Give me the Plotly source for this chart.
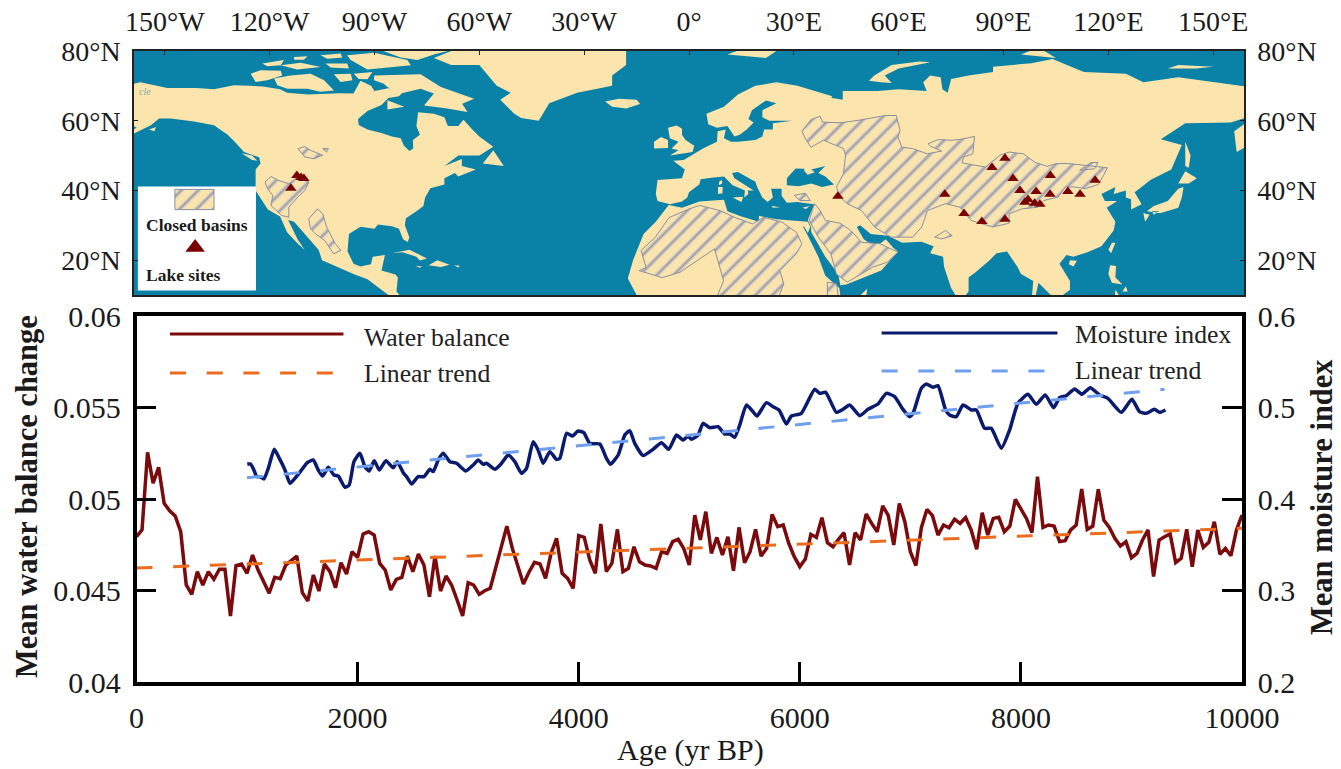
import plotly.graph_objects as go

W, H = 1341, 769
SERIF = "Liberation Serif"

# ---------- lower panel data ----------
ages = list(range(0, 10001, 50))
water_balance = [
 .04794,.04831,.05255,.05086,.05173,.04976,.04936,.04907,.04821,.04530,.04479,.04603,.04530,.04603,.04561,.04616,.04616,.04361,.04636,.04645,
 .04594,.04694,.04612,.04548,.04485,.04572,.04565,.04639,.04663,.04688,.04488,.04443,.04585,.04497,.04645,.04603,.04515,.04652,.04590,.04712,
 .04681,.04809,.04821,.04803,.04648,.04612,.04503,.04561,.04572,.04688,.04603,.04699,.04639,.04466,.04688,.04497,.04579,.04530,.04448,.04361,
 .04543,.04530,.04479,.04499,.04512,.04630,.04739,.04852,.04730,.04630,.04536,.04600,.04654,.04645,.04566,.04703,.04785,.04594,.04566,.04512,
 .04800,.04790,.04667,.04594,.04863,.04603,.04648,.04834,.04603,.04621,.04739,.04657,.04639,.04634,.04621,.04712,.04703,.04767,.04780,.04730,
 .04639,.04912,.04776,.04931,.04703,.04790,.04694,.04794,.04608,.04845,.04652,.04712,.04834,.04688,.04730,.04916,.04849,.04858,.04758,.04685,
 .04630,.04672,.04807,.04790,.04898,.04761,.04739,.04780,.04816,.04639,.04816,.04776,.04918,.04867,.04821,.04962,.04910,.04749,.04976,.04876,
 .04712,.04636,.04845,.04943,.04909,.04803,.04858,.04843,.04889,.04867,.04898,.04831,.04725,.04925,.04803,.04894,.04900,.04821,.04852,.04998,
 .04949,.04894,.04816,.05122,.04845,.04858,.04852,.04767,.04772,.04831,.04858,.05055,.04834,.04852,.05053,.04885,.04845,.04785,.04743,.04767,
 .04679,.04703,.04776,.04831,.04576,.04776,.04794,.04809,.04652,.04676,.04834,.04630,.04831,.04736,.04763,.04876,.04698,.04730,.04690,.04831,.04912]
water_trend_age = [0, 10000]
water_trend = [0.04623, 0.04840]

moisture_age = [1002,1032,1062,1087,1117,1153,1192,1246,1297,1343,1388,1433,1493,1545,1599,1644,1683,1735,1786,1825,1885,1924,1967,2021,2066,2105,2150,2196,2256,2322,2358,2413,2443,2488,2548,2600,2654,2684,2729,2774,2835,2895,2979,3046,3091,3136,3166,3242,3302,3362,3422,3483,3528,3588,3633,3679,3739,3799,3829,3890,3944,3995,4046,4100,4191,4251,4287,4357,4417,4462,4507,4583,4673,4748,4815,4884,4944,4989,5020,5080,5125,5185,5261,5321,5366,5411,5457,5517,5577,5613,5698,5758,5812,5879,5924,6014,6135,6180,6234,6331,6391,6451,6542,6617,6707,6783,6858,6933,6994,7024,7099,7144,7205,7250,7319,7355,7416,7476,7551,7597,7672,7732,7823,7898,7973,8064,8139,8220,8296,8350,8410,8486,8552,8627,8712,8787,8908,9004,9073,9133,9209,9254,9308]
moisture = [.4382,.4382,.4317,.4244,.4244,.4219,.4335,.4543,.4433,.4317,.4171,.4226,.4317,.4397,.4426,.4317,.4251,.4346,.4262,.4251,.4128,.4153,.4408,.4499,.4353,.4306,.4419,.4317,.4419,.4342,.4408,.4288,.4244,.4164,.4244,.4244,.4324,.4299,.4426,.4499,.4408,.4390,.4306,.4372,.4426,.4379,.4390,.4324,.4390,.4481,.4408,.4280,.4335,.4627,.4536,.4390,.4517,.4433,.4444,.4718,.4689,.4743,.4725,.4608,.4601,.4444,.4379,.4481,.4699,.4747,.4608,.4474,.4543,.4616,.4543,.4699,.4645,.4688,.4652,.4699,.4827,.4780,.4790,.4710,.4710,.4674,.4809,.5027,.4954,.4907,.5053,.5009,.4973,.4820,.4907,.4936,.5199,.5155,.5166,.4947,.4980,.5027,.4911,.4980,.5038,.5155,.5118,.4980,.4900,.4936,.5209,.5257,.5220,.5239,.4973,.4918,.4900,.5027,.4973,.4973,.4772,.4772,.4554,.4754,.5046,.5144,.5035,.5137,.4998,.5107,.5129,.5202,.5144,.5217,.5137,.5100,.4947,.5089,.4954,.4936,.4980,.4947,.4973]
moisture_trend_age = [1000, 9300]
moisture_trend = [0.4233, 0.5199]

age_ticks = [0, 2000, 4000, 6000, 8000, 10000]
age_labels = ["0", "2000", "4000", "6000", "8000", "10000"]
left_ticks = [0.04, 0.045, 0.05, 0.055, 0.06]
left_labels = ["0.04", "0.045", "0.05", "0.055", "0.06"]
right_ticks = [0.2, 0.3, 0.4, 0.5, 0.6]
right_labels = ["0.2", "0.3", "0.4", "0.5", "0.6"]

# ---------- map data (lon, lat) ----------
north_america = [(-170,65.5),(-166,66.5),(-162,67),(-166,68.5),(-162,70),(-157,71),(-149.3,69.4),(-141,69.4),(-135.9,69),(-130.2,70.2),(-125.5,70),(-122,69.8),(-117,69),(-115,68),(-109,67.5),(-100,67.9),(-96,67.8),(-94,71.5),(-91,70),(-90,68.5),(-85,69.5),(-81.5,68.5),(-83,67),(-86,66.5),(-88,64.5),(-92,62.8),(-94.7,60.5),(-94.5,58.8),(-92,57.5),(-88,56.5),(-85,55.5),(-82.5,55),(-81.6,52.9),(-80,51.3),(-78.9,52),(-79,54.5),(-77,56),(-78,58.5),(-77.5,62.4),(-73,62),(-70,61),(-69,58.5),(-66,58.5),(-64.5,60.3),(-62,57.5),(-60,55.5),(-56,52.5),(-60,50),(-66,50),(-70,47),(-65,49),(-65,47),(-61,46),(-66,44),(-67,45),(-70,43.5),(-70,41.7),(-74,40.6),(-75.5,38),(-76,35.5),(-78,34),(-81,32),(-81.3,30),(-80,26.5),(-80.5,25.2),(-81.8,26),(-83,29),(-85,29.7),(-89,30.2),(-90,29),(-94,29.6),(-97.3,27.5),(-97.7,22.5),(-96,19),(-94,18.2),(-91,18.8),(-90.5,21),(-87,21.5),(-88,17),(-84,15.9),(-83.3,15),(-83.7,11),(-82,9),(-80,5),(-86,10),(-92,14.5),(-96,16),(-105,20),(-106,23),(-110,27.5),(-113,31),(-114.7,31.5),(-112,26),(-110,23),(-112,24.8),(-115,28),(-117,32.5),(-120.5,34.5),(-124,40),(-124,46),(-122.6,47.7),(-123,49.5),(-127.3,51),(-130,54),(-132,56),(-135.9,58.7),(-141.6,59.8),(-148.3,60.6),(-151.6,60.6),(-154,58.7),(-158.8,56.3),(-164,54.5),(-158,58),(-162,60),(-165,62),(-161,64)]
greenland = [(-73,78),(-68,76),(-60,76),(-55,70),(-51,68),(-54,66),(-50,62),(-48,60.8),(-43,60),(-40,65),(-32,68),(-22,70),(-22,73),(-18,76),(-18,80),(-12,81),(-30,84),(-60,82.5),(-68,80)]
eurasia = [(-9,37),(-9.5,39),(-9,43),(-2,43.5),(-1.2,46),(-4.5,48.5),(-1.5,48.7),(1.5,50.5),(4,52),(8,54),(8.2,57),(10.5,57.5),(10,55),(12,54),(14,54),(19,54.5),(21,55.5),(21.5,57.5),(24,57.5),(24,59.3),(29.5,60),(23,60),(21,61),(21,63),(25,65),(22,65.8),(18,63),(17,60.5),(18.5,59.5),(16.5,57.5),(14.5,56),(13,55.5),(11,58.5),(8,58),(5.5,59),(5,62),(10,64),(14,67.5),(19,70),(25,71),(31,70),(41,67),(40,65.5),(35,64.2),(33,66.5),(41,66.5),(44,66),(44,68.5),(54,68.5),(60,69),(68,68.5),(67,71),(69,73),(72,72.5),(72.5,69),(74,68),(75,72),(80,73),(87,74),(87,75.5),(98,76.5),(104,77.7),(113,74),(125,73.5),(130,71),(140,72.5),(150,71),(160,69.7),(170,70),(180,69),(180,65),(178,62.5),(170,60),(163,58),(160,53),(156.7,51),(156,57),(163,62),(155,59.5),(142,59.3),(135,54.7),(141,53),(138,46),(132,43),(129.5,41),(127.5,39.5),(129.5,36),(126.5,34.5),(126.5,37.5),(125,38),(125,40),(121.5,39),(122,41),(118,39),(119,37),(122.5,37),(119.5,35),(122,31),(121.5,28.5),(118,24),(114,22.3),(110,21),(108,21.5),(106,19),(109,14),(109,11.5),(105,8.5),(100,13.5),(99,9),(98,8),(98.5,14),(95,16),(94,18),(91,22.5),(88,22),(86,20),(82,16.5),(80,15),(80,11),(77.5,8),(75,12),(73,18),(72.7,21),(69,22),(70,24),(66.5,25.3),(61,25),(57,27),(52,27.5),(49,30),(48,29.5),(50,26),(51.5,25),(54,24.2),(56.3,26),(58.5,23.5),(59.8,22.5),(55,17),(45,13),(43.3,12.8),(42.7,16),(39,21),(35,28),(34.9,29.5),(34,31.5),(35.8,36),(31,36.7),(28,36.5),(26.5,38.5),(26.5,40.5),(23.5,40.5),(24,38),(22.5,36.7),(21,38),(19.5,41),(19,42.5),(14,45.3),(12.3,45),(13,43.5),(16,41.7),(18.5,40),(16.8,40),(17,39),(15.8,38),(16,40),(12.5,41.5),(10,44),(7,43.7),(3.3,43.2),(3,41.8),(0,39.5),(-0.5,38),(-2,36.8),(-5.5,36)]
africa = [(-5.8,35.8),(-2,35),(3,36.8),(10,37.3),(11,34),(15,32.5),(20,31),(20,32.7),(25,31.7),(32,31.2),(34,31),(34.7,29.5),(34,27.8),(33,29.5),(32.5,29.8),(34,27),(37,21),(39,15.5),(43,12),(44,5),(51,11.8),(50,5),(10,2),(-8,4),(-15,10),(-17.5,14.7),(-16,20),(-13,27.5),(-9.5,31)]
islands = [
 [(-59,47.7),(-56,51.5),(-53,47)],
 [(-85,22),(-80,23),(-75,20.5),(-77,19.9),(-78,21),(-82,22.3)],
 [(-74.5,18.5),(-72,20),(-68.5,18.7),(-71,18)],
 [(-78.3,18.4),(-76.3,18.2),(-77,17.8)],
 [(-67.2,18.5),(-65.6,18.4),(-66,17.9)],
 [(-90.1,73),(-76.8,73.3),(-71,69.7),(-61.5,66.3),(-64.9,64.9),(-63.4,62.5),(-69.2,63.5),(-75.8,64.4),(-73,67.8),(-76.8,69.2),(-82.5,67.8),(-86.3,69.7),(-87.3,70.6),(-90.1,71.6)],
 [(-118.7,72.1),(-114,73),(-108.3,73.5),(-104.4,71.6),(-101.6,68.7),(-105.4,68.3),(-109.2,69.2),(-114.9,69.2),(-117.8,70.2)],
 [(-125.4,73.5),(-122.6,74.5),(-116.8,74.3),(-116.4,73),(-120.7,71.6),(-124,71.1)],
 [(-122.1,76.4),(-115.9,77.4),(-116.8,75.9),(-120.7,75.6)],
 [(-116.8,75.9),(-111.1,76.6),(-105.4,75.4),(-112.1,74.7)],
 [(-113,78.3),(-109.2,78.5),(-110.2,77.5),(-113,77.5)],
 [(-105.4,78.8),(-99.7,79.3),(-99.2,78.1),(-103.5,77.8)],
 [(-104,76.4),(-97.8,76.4),(-97.3,75),(-102.5,75.3)],
 [(-101.6,73.3),(-96.8,73.5),(-96.3,71.6),(-99.7,71.1)],
 [(-95.9,73.5),(-90.6,74),(-92,71.9),(-94.5,72)],
 [(-97.8,78.8),(-90.1,79.5),(-80.6,77.4),(-79.6,75.9),(-92,74.7),(-96.8,77.4)],
 [(-90.1,81),(-65,81),(-73,79),(-77.7,77.4),(-82.5,78.1)],
 [(-86.3,65.9),(-81.5,64),(-86.3,63.2)],
 [(-154.5,57.5),(-152.5,58.2),(-153,57)],
 [(-128,50.7),(-125,50),(-123.5,48.5),(-125,48.7)],
 [(-24,65.5),(-22,64),(-18,63.5),(-14,64.8),(-15,66),(-20,66.3)],
 [(-5.5,50),(1,51),(1.5,52.8),(-1,54.5),(-2,56),(-2,57.7),(-3.5,58.6),(-6,58),(-5.5,55),(-3,54),(-5,52),(-3,51.5)],
 [(-10,52),(-6,52.2),(-6,54.5),(-8,55.3),(-10,54)],
 [(131,34),(135,33.5),(140,35),(141,38),(141.5,41),(140,40.5),(137,37),(133,35.5)],
 [(140,42),(142,45.5),(145.3,43.5),(143,42)],
 [(130,33.5),(131.8,33),(130.5,31)],
 [(132.5,34),(134.5,34),(133,33)],
 [(142,54),(143.5,50),(143,46.5),(142,47),(142,50)],
 [(121,25),(122,25),(120.8,22),(120,23)],
 [(109,20),(111,19.8),(110,18.2),(108.7,18.8)],
 [(120.5,18.5),(122.2,18.3),(122,15),(124,13),(121,13.5),(120,16)],
 [(125,12.5),(124,11),(125.5,11)],
 [(122,11.5),(123,10),(121.9,10)],
 [(51.5,71.5),(55,71),(58,70.8),(56,73),(60,75),(69,76.8),(66,77),(58,76),(53,73)],
 [(11,79),(22,78),(25,80),(15,80.5)],
 [(137,75),(145,75),(150,75.5),(140,76)],
 [(95,79),(105,78),(100,81)],
 [(8.3,39),(9.6,39.2),(9.6,41),(8.3,41)],
 [(8.6,41.5),(9.5,42),(9.4,43),(8.6,42.5)],
 [(12.5,38),(15.5,38.2),(15,36.7)],
 [(23.6,35.5),(26.2,35.2),(24,35)],
 [(32.4,35),(34.5,35.5),(33.5,34.7)],
]
black_sea = [(28,41.5),(31.5,41.2),(35,42),(38,41),(41.5,41.7),(39,44),(37,45),(39,47),(35,46),(36,45.2),(34,44.5),(33,45.5),(33,46.2),(30.5,46.3),(28,43.5)]

basin_central_asia = [(32.3,57.0),(34.9,60.3),(37.5,61.3),(38.2,59.6),(43.2,59.4),(48.4,60.1),(56.2,61.5),(59.3,61.5),(60.4,57.2),(59.8,55.3),(60.9,52.4),(64.0,52.0),(68.2,50.5),(72.3,51.3),(69.2,52.6),(68.4,53.4),(71.3,54.6),(75.0,54.4),(77.5,54.6),(81.7,55.5),(81.2,50.5),(78.6,49.6),(78.1,47.9),(84.8,46.7),(89.0,50.1),(91.6,51.0),(95.7,50.5),(98.9,48.1),(102.5,46.9),(105.1,47.7),(108.7,47.7),(112.9,47.2),(119.7,46.5),(118.6,44.3),(117.1,41.7),(113.4,40.5),(110.3,41.0),(107.7,41.0),(105.6,38.1),(101.5,37.1),(99.9,35.2),(95.2,34.7),(91.6,33.3),(91.6,30.6),(86.9,29.5),(80.7,31.4),(77.5,35.2),(73.4,36.2),(68.2,34.2),(66.6,29.5),(64.0,26.6),(57.8,26.6),(53.1,29.5),(49.4,34.2),(45.3,36.2),(43.2,38.1),(42.2,41.0),(44.2,44.8),(44.8,50.1),(44.2,52.0),(38.5,54.4),(34.9,52.4),(33.3,54.8)]
basin_arabia = [(34.4,31.4),(35.9,36.2),(37.5,34.3),(39.0,31.4),(43.2,30.6),(46.3,28.5),(49.4,25.1),(54.6,24.7),(59.8,22.3),(56.7,19.4),(52.6,18.0),(45.3,13.7),(42.2,16.0),(40.6,21.8),(37.0,26.6)]
basin_sahara = [(.3,34.8),(3.1,35.7),(8.9,34.2),(13,32.3),(18.2,30.4),(21.4,32.3),(26.6,30.9),(30.7,28),(32.3,24.7),(30.7,21.8),(26,17),(27.1,13.2),(25.5,9),(7.8,9),(9.9,14.1),(7.3,23.2),(3.7,20.8),(-2.6,16.5),(-7.7,15),(-14.3,17),(-12.3,17.9),(-13.7,22.8),(-9.7,26.5),(-5.7,32.2)]
basin_afar = [(39.6,13.7),(42.2,13.2),(42.7,9.8),(39.6,9.8)]
basin_hulun = [(111.8,45.8),(115,48),(117,48),(116,46.2)]
basin_helmand_small = [(70.3,26.6),(73.4,28.5),(75.3,27),(72.3,26.1)]
basin_turkey = [(30.2,38.6),(33.3,39.2),(34.7,37.1),(31.7,37.1)]
basin_great = [(-121.3,42.4),(-119.6,44.0),(-117.5,42.9),(-114.5,41.9),(-112.1,43.8),(-108.8,42.4),(-109.9,40.0),(-111.9,38.1),(-114.5,35.2),(-114.5,32.3),(-116.5,32.8),(-119.6,35.7),(-119.1,38.6),(-120.6,40.5)]
basin_prairie1 = [(-111.9,52),(-109.9,52.6),(-108.3,51.5),(-104.8,50.1),(-107.3,49.1),(-109.9,49.6),(-111.1,51)]
basin_prairie2 = [(-104.8,52),(-103.2,52),(-103.7,51)]
basin_mexico = [(-108.8,31.9),(-106.3,34.7),(-104.8,33.3),(-103.7,29.5),(-101.2,24.7),(-99.6,22.8),(-101.7,21.8),(-104.2,25.6),(-106.8,27.5),(-108.3,29)]

site_lon = [42.6,73.2,78.7,83.8,90.4,86.7,90.4,92.7,94.7,103.4,116.2,108.4,111.9,103.3,99.3,97,96.1,98.9,100.4,-112.2,-110.2,-111,-113.9]
site_lat = [38.3,38.9,33.4,31.1,31.7,46.6,49.2,43.4,40,44.3,42.9,39.7,38.9,38.9,39.7,37.4,36.6,36.3,36,44.3,43.4,43.7,40.6]

lon_ticks = [-150,-120,-90,-60,-30,0,30,60,90,120,150]
lon_labels = ["150°W","120°W","90°W","60°W","30°W","0°","30°E","60°E","90°E","120°E","150°E"]
lat_ticks = [20,40,60,80]
lat_labels = ["20°N","40°N","60°N","80°N"]

legend_box = [(-157.7,41.1),(-123.9,41.1),(-123.9,11.3),(-157.7,11.3)]
legend_swatch = [(-147.1,40.3),(-135.9,40.3),(-135.9,34.5),(-147.1,34.5)]

SEA, LAND = "#0a82a8", "#fce5ad"
HATCH_BG, HATCH_LINE, BORDER = "#fce5ad", "#6b7084", "#8b8f9e"
RED, ORANGE, NAVY, SKY = "#7a0a0c", "#ea6c1c", "#0a1a6e", "#6f9ff0"


def poly(*rings):
    xs, ys = [], []
    for ring in rings:
        xs += [p[0] for p in ring] + [ring[0][0], None]
        ys += [p[1] for p in ring] + [ring[0][1], None]
    return xs, ys


fig = go.Figure()


def map_fill(rings, color, name):
    x, y = poly(*rings)
    fig.add_trace(go.Scatter(x=x, y=y, xaxis="x2", yaxis="y2", mode="lines", fill="toself",
                             fillcolor=color, line=dict(width=0), hoverinfo="skip", name=name))


def hatched(rings, name):
    x, y = poly(*rings)
    fig.add_trace(go.Scatter(x=x, y=y, xaxis="x2", yaxis="y2", mode="lines", fill="toself", hoverinfo="skip",
                             line=dict(width=0), name=name + " band", fillcolor=HATCH_BG,
                             fillpattern=dict(shape="/", size=12, solidity=0.45, fgcolor="#c9cbdc", bgcolor=HATCH_BG)))
    fig.add_trace(go.Scatter(x=x, y=y, xaxis="x2", yaxis="y2", mode="lines", fill="toself", hoverinfo="skip",
                             line=dict(width=1, color=BORDER), name=name,
                             fillpattern=dict(shape="/", size=12, solidity=0.2, fgcolor=HATCH_LINE, bgcolor="rgba(0,0,0,0)")))


map_fill([north_america, greenland, eurasia, africa] + islands, LAND, "Land")
map_fill([black_sea], SEA, "Black Sea")
hatched([basin_central_asia, basin_arabia, basin_sahara, basin_afar, basin_hulun, basin_helmand_small, basin_turkey,
         basin_great, basin_prairie1, basin_prairie2, basin_mexico], "Closed basins")
fig.add_trace(go.Scatter(x=site_lon, y=site_lat, xaxis="x2", yaxis="y2", mode="markers", name="Lake sites",
                         marker=dict(symbol="triangle-up", size=10, color="#7a0000", line=dict(width=0)), hoverinfo="skip"))
map_fill([legend_box], "#ffffff", "Legend box")
hatched([legend_swatch], "Legend swatch")
fig.add_trace(go.Scatter(x=[-141.3], y=[23.6], xaxis="x2", yaxis="y2", mode="markers", name="Legend marker",
                         marker=dict(symbol="triangle-up", size=17, color="#7a0000", line=dict(width=0)), hoverinfo="skip"))
# carries the right-hand latitude axis
fig.add_trace(go.Scatter(x=[0], y=[40], xaxis="x2", yaxis="y4", mode="markers", marker=dict(opacity=0), hoverinfo="skip", name="lat"))

# lower panel
LW = 3.5
fig.add_trace(go.Scatter(x=ages, y=water_balance, xaxis="x", yaxis="y", mode="lines", name="Water balance",
                         line=dict(color=RED, width=LW), hoverinfo="skip"))
fig.add_trace(go.Scatter(x=water_trend_age, y=water_trend, xaxis="x", yaxis="y", mode="lines", name="Linear trend",
                         line=dict(color=ORANGE, width=3, dash="16px,20.7px"), hoverinfo="skip"))
fig.add_trace(go.Scatter(x=moisture_age, y=moisture, xaxis="x", yaxis="y3", mode="lines", name="Moisture index",
                         line=dict(color=NAVY, width=LW, shape="spline", smoothing=0.5), hoverinfo="skip"))
fig.add_trace(go.Scatter(x=moisture_trend_age, y=moisture_trend, xaxis="x", yaxis="y3", mode="lines", name="Linear trend",
                         line=dict(color=SKY, width=3, dash="16px,20.7px"), hoverinfo="skip"))
# in-plot key
fig.add_trace(go.Scatter(x=[303, 1872], y=[0.05902, 0.05902], mode="lines", line=dict(color=RED, width=3), hoverinfo="skip", name="key water"))
fig.add_trace(go.Scatter(x=[303, 1840], y=[0.05688, 0.05688], mode="lines", line=dict(color=ORANGE, width=3, dash="16px,20.7px"), hoverinfo="skip", name="key trend"))
fig.add_trace(go.Scatter(x=[6740, 8331], y=[0.05907, 0.05907], mode="lines", line=dict(color=NAVY, width=3), hoverinfo="skip", name="key moisture"))
fig.add_trace(go.Scatter(x=[6740, 8222], y=[0.05699, 0.05699], mode="lines", line=dict(color=SKY, width=3, dash="16px,20.7px"), hoverinfo="skip", name="key trend 2"))

ann = [
    dict(text="<b>Closed basins</b>", x=-140.8, y=30.2, xref="x2", yref="y2", showarrow=False, font=dict(size=17.5)),
    dict(text="<b>Lake sites</b>", x=-144.5, y=15.6, xref="x2", yref="y2", showarrow=False, font=dict(size=17.5)),
    dict(text="<i>cle</i>", x=-155.6, y=68.4, xref="x2", yref="y2", showarrow=False, font=dict(size=10, color="#7fa8a8")),
    dict(text="Water balance", x=2040, y=0.0588, xref="x", yref="y", xanchor="left", showarrow=False, font=dict(size=25.7, color="#222")),
    dict(text="Linear trend", x=2040, y=0.05685, xref="x", yref="y", xanchor="left", showarrow=False, font=dict(size=25.7, color="#222")),
    dict(text="Moisture index", x=8470, y=0.0590, xref="x", yref="y", xanchor="left", showarrow=False, font=dict(size=25.7, color="#222")),
    dict(text="Linear trend", x=8470, y=0.0570, xref="x", yref="y", xanchor="left", showarrow=False, font=dict(size=25.7, color="#222")),
    dict(text="<b>Mean water balance change</b>", x=27/W, y=1-497/H, xref="paper", yref="paper", xanchor="center", yanchor="middle", textangle=-90, showarrow=False, font=dict(size=30.5)),
    dict(text="<b>Mean moisture index</b>", x=1322/W, y=1-497/H, xref="paper", yref="paper", xanchor="center", yanchor="middle", textangle=-90, showarrow=False, font=dict(size=30.5)),
    dict(text="Age (yr BP)", x=690/W, y=1-750/H, xref="paper", yref="paper", xanchor="center", yanchor="middle", showarrow=False, font=dict(size=30)),
]

bot = [1-682/H, 1-316/H]
fig.update_layout(
    width=W, height=H, autosize=False, margin=dict(l=0, r=0, t=0, b=0),
    paper_bgcolor="white", plot_bgcolor="white", showlegend=False,
    font=dict(family=SERIF, color="#1a1a1a"),
    annotations=ann,
    shapes=[dict(type="rect", xref="x2 domain", yref="y2 domain", x0=0, x1=1, y0=0, y1=1, fillcolor=SEA, line=dict(width=0), layer="below")],
    xaxis=dict(domain=[136.5/W, 1242/W], range=[0, 10000], tickvals=age_ticks, ticktext=age_labels, ticks="inside", ticklen=20, tickwidth=2.5,
               tickcolor="black", showline=True, linewidth=3.5, linecolor="black", mirror=True, showgrid=False, zeroline=False,
               tickfont=dict(size=30), ticklabelstandoff=6, anchor="y", automargin=False),
    yaxis=dict(domain=bot, range=[0.04, 0.06], tickvals=left_ticks, ticktext=left_labels, ticks="inside", ticklen=20,
               tickwidth=2.5, tickcolor="black", showline=True, linewidth=3.5, linecolor="black", showgrid=False, zeroline=False,
               tickfont=dict(size=30), ticklabelstandoff=6, anchor="x", automargin=False),
    yaxis3=dict(domain=bot, range=[0.2, 0.6], overlaying="y", side="right", tickvals=right_ticks, ticktext=right_labels,
                ticks="inside", ticklen=20, tickwidth=2.5, tickcolor="black", showline=True, linewidth=3.5, linecolor="black",
                showgrid=False, zeroline=False, tickfont=dict(size=30), ticklabelstandoff=6, anchor="x", automargin=False),
    xaxis2=dict(domain=[134/W, 1244/W], range=[-158.8, 158.8], side="top", tickvals=lon_ticks, ticktext=lon_labels, ticks="inside",
                ticklen=4, tickwidth=1, tickcolor="#222", showline=True, linewidth=1.5, linecolor="#222", mirror=True,
                showgrid=False, zeroline=False, anchor="y2", automargin=False, tickfont=dict(size=28), ticklabelstandoff=7),
    yaxis2=dict(domain=[1-295/H, 1-51/H], range=[10, 80], tickvals=lat_ticks, ticktext=lat_labels, ticks="inside", ticklen=4, tickwidth=1,
                tickcolor="#222", showline=True, linewidth=1.5, linecolor="#222", showgrid=False, zeroline=False,
                tickfont=dict(size=28), ticklabelstandoff=6, anchor="x2", automargin=False),
    yaxis4=dict(domain=[1-295/H, 1-51/H], range=[10, 80], overlaying="y2", side="right", tickvals=lat_ticks, ticktext=lat_labels, ticks="inside",
                ticklen=4, tickwidth=1, tickcolor="#222", showline=True, linewidth=1.5, linecolor="#222", showgrid=False, zeroline=False,
                tickfont=dict(size=28), ticklabelstandoff=6, anchor="x2", automargin=False),
)

fig.write_html("out.html", config=dict(displayModeBar=False),
               post_script="document.body.style.margin='0';document.body.style.overflow='hidden';")
